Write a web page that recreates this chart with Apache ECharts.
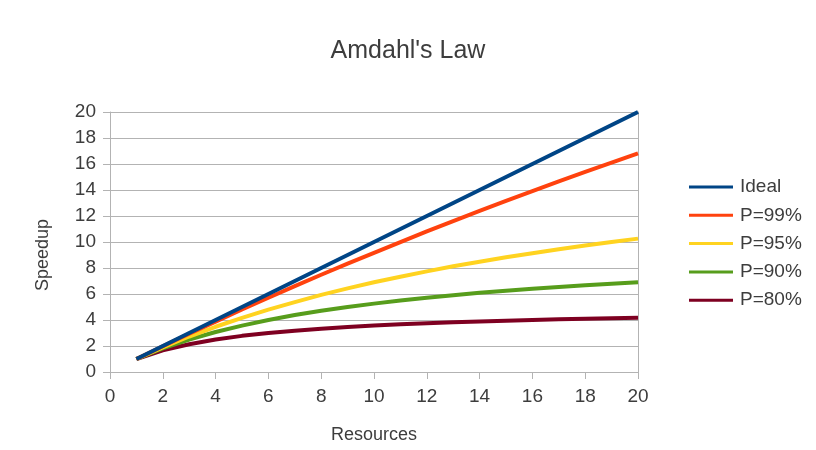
<!DOCTYPE html>
<html>
<head>
<meta charset="utf-8">
<script src="https://cdn.jsdelivr.net/npm/echarts@6/dist/echarts.min.js"></script>
<style>
  html, body { margin: 0; padding: 0; background: #fff; }
  #chart { width: 816px; height: 450px; }
</style>
</head>
<body>
<div id="chart"></div>
<script>
const resources = [1, 2, 3, 4, 5, 6, 7, 8, 9, 10, 11, 12, 13, 14, 15, 16, 17, 18, 19, 20];
const ideal = [1, 2, 3, 4, 5, 6, 7, 8, 9, 10, 11, 12, 13, 14, 15, 16, 17, 18, 19, 20];
const p99 = [1, 1.98, 2.94, 3.88, 4.81, 5.71, 6.6, 7.48, 8.33, 9.17, 9.99, 10.81, 11.61, 12.39, 13.16, 13.91, 14.66, 15.39, 16.1, 16.81];
const p95 = [1, 1.9, 2.73, 3.48, 4.17, 4.8, 5.38, 5.93, 6.43, 6.9, 7.33, 7.74, 8.13, 8.48, 8.82, 9.14, 9.44, 9.73, 10.0, 10.26];
const p90 = [1, 1.82, 2.5, 3.08, 3.57, 4.0, 4.38, 4.71, 5.0, 5.26, 5.5, 5.71, 5.91, 6.09, 6.25, 6.4, 6.54, 6.67, 6.79, 6.9];
const p80 = [1, 1.67, 2.14, 2.5, 2.78, 3.0, 3.18, 3.33, 3.46, 3.57, 3.67, 3.75, 3.82, 3.89, 3.95, 4.0, 4.05, 4.09, 4.13, 4.17];

const seriesNames = ['Ideal', 'P=99%', 'P=95%', 'P=90%', 'P=80%'];
const seriesData = [ideal, p99, p95, p90, p80];
const colors = ['#004586', '#ff420e', '#ffd320', '#579d1c', '#7e0021'];

const font = '"Liberation Sans", Arial, sans-serif';
const textColor = '#3d3d3d';
const gridColor = '#b3b3b3';

const chart = echarts.init(document.getElementById('chart'));

const option = {
  animation: false,
  color: colors,
  textStyle: { fontFamily: font },
  title: {
    text: "Amdahl's Law",
    left: 'center',
    top: 34,
    textStyle: { fontFamily: font, fontSize: 25, fontWeight: 'normal', color: textColor },
  },
  legend: {
    orient: 'vertical',
    left: 684,
    top: 171,
    icon: 'rect',
    itemWidth: 44,
    itemHeight: 3,
    itemGap: 6.3,
    data: seriesNames,
    textStyle: { fontFamily: font, fontSize: 19, color: textColor, lineHeight: 22, padding: [0, 0, 0, 2] },
  },
  grid: { left: 110, right: 178, top: 112, bottom: 78, outerBoundsMode: 'none', containLabel: false },
  xAxis: {
    type: 'value',
    min: 0,
    max: 20,
    interval: 2,
    name: 'Resources',
    nameLocation: 'middle',
    nameGap: 54,
    nameTextStyle: { fontFamily: font, fontSize: 18, color: textColor },
    axisLine: { lineStyle: { color: gridColor } },
    axisTick: { show: true, length: 7, lineStyle: { color: gridColor } },
    axisLabel: { fontFamily: font, fontSize: 19, color: textColor, margin: 15 },
    splitLine: { show: false },
  },
  yAxis: [
    {
      type: 'value',
      min: 0,
      max: 20,
      interval: 2,
      name: 'Speedup',
      nameLocation: 'middle',
      nameGap: 58,
      nameTextStyle: { fontFamily: font, fontSize: 18, color: textColor, padding: [0, 26, 0, 0] },
      axisLine: { show: true, lineStyle: { color: gridColor } },
      axisTick: { show: true, length: 7, lineStyle: { color: gridColor } },
      axisLabel: { fontFamily: font, fontSize: 19, color: textColor, margin: 14 },
      splitLine: { show: true, lineStyle: { color: gridColor } },
    },
    {
      type: 'value',
      min: 0,
      max: 20,
      interval: 2,
      position: 'right',
      axisLine: { show: true, lineStyle: { color: gridColor } },
      axisTick: { show: false },
      axisLabel: { show: false },
      splitLine: { show: false },
    },
  ],
  series: seriesNames.map((name, i) => ({
    name,
    type: 'line',
    data: resources.map((r, j) => [r, seriesData[i][j]]),
    showSymbol: false,
    symbol: 'none',
    lineStyle: { width: 4, color: colors[i] },
    z: 10 - i,
  })),
};

chart.setOption(option);
</script>
</body>
</html>
